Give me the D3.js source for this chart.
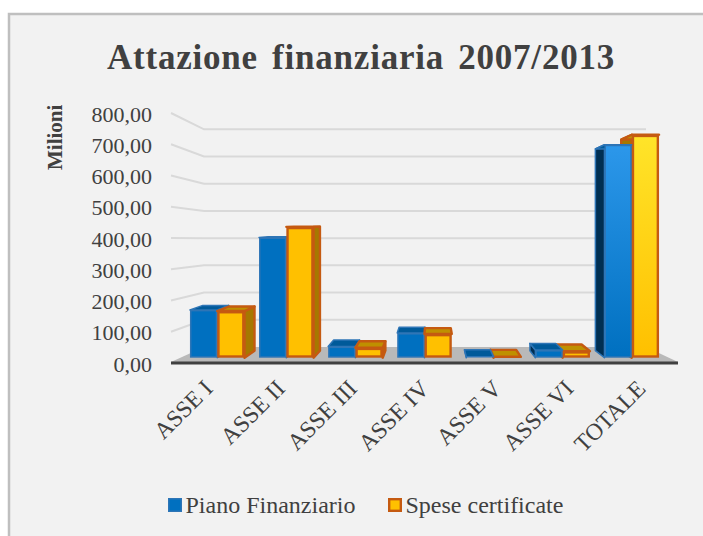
<!DOCTYPE html>
<html>
<head>
<meta charset="utf-8">
<script src="https://cdn.jsdelivr.net/npm/d3@7"></script>
<style>
html, body { margin: 0; padding: 0; background: #fff; }
svg { display: block; }
text { font-family: "Liberation Serif", serif; fill: #404040; }
</style>
</head>
<body>
<div id="chart"></div>
<script>
const categories = ['ASSE I', 'ASSE II', 'ASSE III', 'ASSE IV', 'ASSE V', 'ASSE VI', 'TOTALE'];
const seriesNames = ['Piano Finanziario', 'Spese certificate'];
const pianoFinanziario = [163, 410, 38, 84, 3, 26, 726];
const speseCertificate = [159, 446, 34, 81, 3, 22, 760];
const tickValues = [0, 100, 200, 300, 400, 500, 600, 700, 800];
const tickLabels = ['0,00', '100,00', '200,00', '300,00', '400,00', '500,00', '600,00', '700,00', '800,00'];

const width = 703, height = 536;

const svg = d3.select('#chart').append('svg')
    .attr('width', width)
    .attr('height', height);

// panel
svg.append('rect').attr('x', 9).attr('y', 14).attr('width', width).attr('height', height)
    .attr('fill', '#f2f2f2').attr('stroke', '#bfbfbf').attr('stroke-width', 2.5);

const defs = svg.append('defs');
const gradBlue = defs.append('linearGradient').attr('id', 'gradBlue').attr('x1', 0).attr('x2', 0).attr('y1', 0).attr('y2', 1);
gradBlue.append('stop').attr('offset', 0).attr('stop-color', '#2c97ea');
gradBlue.append('stop').attr('offset', 1).attr('stop-color', '#0070c0');
const gradYellow = defs.append('linearGradient').attr('id', 'gradYellow').attr('x1', 0).attr('x2', 0).attr('y1', 0).attr('y2', 1);
gradYellow.append('stop').attr('offset', 0).attr('stop-color', '#ffe429');
gradYellow.append('stop').attr('offset', 1).attr('stop-color', '#ffc000');

// three scales: front edge of the floor, back wall, plane of the bars
const yFront = d3.scaleLinear().domain([0, 800]).range([363, 113]);
const yBack = d3.scaleLinear().domain([0, 800]).range([347, 129.3]);
const yBar = d3.scaleLinear().domain([0, 800]).range([357.7, 123]);

const x0 = d3.scaleBand().domain(categories).range([182.7, 666.3]).paddingInner(0.21).paddingOuter(0.105);
const x1 = d3.scaleBand().domain(seriesNames).range([0, x0.bandwidth()]);
// rotated labels are spaced a little wider than the bars
const xLabel = d3.scalePoint().domain(categories).range([204, 637]);

const wallLeft = 204, wallRight = 646, frontLeft = 171, frontRight = 678;

// floor
svg.append('polygon')
    .attr('points', [[frontLeft, yFront(0) - 1], [wallLeft, yBack(0)], [wallRight, yBack(0)], [frontRight, yFront(0) - 1]].join(' '))
    .attr('fill', '#b9b9b9');

// gridlines
const grid = svg.append('g').attr('fill', 'none').attr('stroke', '#d9d9d9').attr('stroke-width', 2);
tickValues.slice(1).forEach(v => {
    grid.append('path').attr('d', d3.line()([[frontLeft, yFront(v)], [wallLeft, yBack(v)], [wallRight, yBack(v)]]));
});

// axis line
svg.append('line').attr('x1', frontLeft).attr('x2', frontRight).attr('y1', yFront(0)).attr('y2', yFront(0))
    .attr('stroke', '#404040').attr('stroke-width', 3);

// depth of the bars, towards a vanishing point
const vx = 433, vy = 225, depth = 0.053;
const back = (x, y) => [x + (vx - x) * depth, y + (vy - y) * depth];

const styles = [
    { front: '#0070c0', grad: 'url(#gradBlue)', stroke: '#2e75b6', top: '#005a9a', side: '#002f52', sw: 1.5 },
    { front: '#ffc000', grad: 'url(#gradYellow)', stroke: '#c55a11', top: '#bf9000', side: '#a67800', sw: 2.4 }
];

const drawBar = (g, cat, i, value) => {
    const st = styles[i];
    const l = x0(cat) + x1(seriesNames[i]), r = l + x1.bandwidth();
    const t = yBar(value), b = yBar(0);
    const face = pts => g.append('polygon').attr('points', pts.join(' '))
        .attr('stroke', st.stroke).attr('stroke-width', st.sw).attr('stroke-linejoin', 'round');
    // side that faces the middle of the chart
    if (r < vx) face([[r, t], back(r, t), back(r, b), [r, b]]).attr('fill', st.side);
    if (l > vx) face([[l, t], back(l, t), back(l, b), [l, b]]).attr('fill', st.side);
    face([[l, t], back(l, t), back(r, t), [r, t]]).attr('fill', st.top);
    const inset = st.sw / 2;
    g.append('rect')
        .attr('x', l + inset).attr('y', t + inset)
        .attr('width', x1.bandwidth() - st.sw).attr('height', Math.max(b - t - st.sw, 0))
        .attr('fill', cat === 'TOTALE' ? st.grad : st.front)
        .attr('stroke', st.stroke).attr('stroke-width', st.sw);
};

const bars = svg.append('g');
categories.forEach((cat, c) => {
    const g = bars.append('g');
    // the series nearest the vanishing point has to be painted first
    const order = x0(cat) > vx ? [1, 0] : [0, 1];
    order.forEach(i => drawBar(g, cat, i, i === 0 ? pianoFinanziario[c] : speseCertificate[c]));
});

// y axis labels
const yAxis = svg.append('g')
    .attr('transform', 'translate(152,1)')
    .call(d3.axisLeft(yFront).tickValues(tickValues).tickSize(0).tickPadding(0)
        .tickFormat((d, i) => tickLabels[i]));
yAxis.select('.domain').remove();
yAxis.selectAll('text').style('font-family', '"Liberation Serif", serif').style('font-size', '22px')
    .style('fill', '#404040');

// x axis labels
svg.append('g').selectAll('text')
    .data(categories)
    .enter()
    .append('text')
    .attr('text-anchor', 'end')
    .attr('transform', d => 'translate(' + xLabel(d) + ',380) rotate(-45)')
    .attr('dy', '0.6em')
    .style('font-size', '23.6px')
    .text(d => d);

// title
svg.append('text')
    .attr('x', 361).attr('y', 69)
    .attr('text-anchor', 'middle')
    .style('font-size', '35px').style('font-weight', 'bold')
    .style('letter-spacing', '0.8px').style('word-spacing', '4.5px')
    .text('Attazione finanziaria 2007/2013');

// axis title
svg.append('text')
    .attr('transform', 'translate(62,170) rotate(-90)')
    .style('font-size', '21px').style('font-weight', 'bold')
    .text('Milioni');

// legend
const legendX = [168, 388];
seriesNames.forEach((name, i) => {
    const sw = styles[i].sw;
    svg.append('rect').attr('x', legendX[i] + sw / 2).attr('y', 498 + sw / 2).attr('width', 14 - sw).attr('height', 14 - sw)
        .attr('fill', styles[i].front).attr('stroke', styles[i].stroke).attr('stroke-width', sw);
    svg.append('text').attr('x', legendX[i] + 17.5).attr('y', 512.5)
        .style('font-size', '24px')
        .text(name);
});
</script>
</body>
</html>
